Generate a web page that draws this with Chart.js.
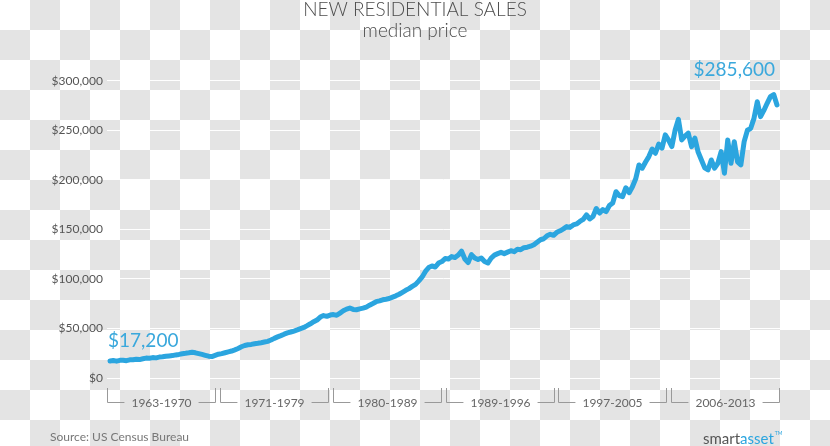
<!DOCTYPE html>
<html>
<head>
<meta charset="utf-8">
<script src="https://cdn.jsdelivr.net/npm/chart.js@4.4.1/dist/chart.umd.min.js"></script>
<style>
  html, body { margin: 0; padding: 0; }
  body {
    width: 830px; height: 446px; overflow: hidden;
    background: conic-gradient(#e4e4e4 25%, #fff 0 50%, #e4e4e4 0 75%, #fff 0);
    background-size: 60px 60px;
  }
  canvas { display: block; }
</style>
</head>
<body>
<canvas id="salesChart" width="830" height="446"></canvas>
<script>
// median sales price of new houses, quarterly readings, 1963 - 2013
const prices = [
  17200, 17600, 17000, 17800,  17900, 17500, 18300, 18400,  18900, 18600, 19400, 20100,
  20000, 20600, 20300, 21100,  21400, 21900, 22300, 22600,  23300, 23800, 24500, 24900,
  25400, 26000, 25400, 24600,  23800, 22900, 22000, 21600,  22800, 24000, 24600, 25500,
  26400, 27200, 28400, 29800,  31500, 32800, 33600, 33900,  34600, 35000, 35600, 36300,
  37000, 38300, 40000, 41500,  42800, 44200, 45500, 46400,  47400, 48500, 49800, 51000,
  52800, 54700, 56800, 58500,  61500, 63000, 62200, 63500,  64000, 63300, 65500, 67800,
  69500, 70600, 69200, 68900,  69800, 70500, 71600, 73500,  75200, 77000, 77800, 78900,
  79500, 80200, 81600, 82900,  84500, 86500, 88500, 90200,  92500, 94500, 98000, 102000,
  107500, 111500, 113000, 112000,  116000, 117500, 120500, 120000,  122500, 121500, 124000, 128000,
  120000, 116500, 124500, 121000,  119500, 121000, 117500, 116000,  121000, 124000, 125500, 126800,
  125500, 127000, 128500, 127500,  130000, 129500, 131500, 132000,  133000, 134500, 137000, 139500,
  140500, 143500, 145000, 144000,  147000, 148500, 150500, 152800,  152000, 154500, 155500, 158000,
  160000, 164600, 160500, 163000,  171000, 166500, 170000, 168000,  174000, 176500, 188000, 184000,
  183000, 192000, 187000, 193000,  201000, 215000, 211700, 218000,  223400, 231000, 226800, 236000,
  232000, 245300, 240000, 233500,  250300, 261000, 240200, 244000,  247000, 233500, 242000, 228000,
  220000, 212000, 210000, 220000,  211700, 216700, 228400, 206700,  240200, 216700, 238500, 218000,
  215000, 238500, 250000, 252000,  262000, 278800, 263700, 270000,  277200, 283900, 286000, 275500
];
const periods = ["1963-1970", "1971-1979", "1980-1989", "1989-1996", "1997-2005", "2006-2013"];
const yTicks = [0, 50000, 100000, 150000, 200000, 250000, 300000];
const firstLabel = "$17,200";
const lastLabel = "$285,600";

const blue = "#2ba5df";

// bracket labels under the plot, callouts and footer
const decor = {
  id: "decor",
  afterDraw(chart) {
    const ctx = chart.ctx;
    const area = chart.chartArea;
    const x = chart.scales.x, y = chart.scales.y;
    ctx.save();

    // first / last value callouts
    ctx.fillStyle = "#3aa8dc";
    ctx.font = "19px Lato";
    ctx.textBaseline = "alphabetic";
    ctx.textAlign = "left";
    ctx.fillText(firstLabel, x.getPixelForValue(0) - 2, y.getPixelForValue(prices[0]) - 14);
    ctx.textAlign = "right";
    ctx.fillText(lastLabel, x.getPixelForValue(prices.length - 1) - 2, y.getPixelForValue(300000) - 5);

    // period brackets
    const gap = 4;
    const w = (area.right - area.left - gap * (periods.length - 1)) / periods.length;
    const top = area.bottom + 10, mid = area.bottom + 24;
    ctx.font = "12px Lato";
    ctx.textAlign = "center";
    ctx.textBaseline = "middle";
    ctx.strokeStyle = "#999";
    ctx.lineWidth = 1;
    periods.forEach(function (p, i) {
      const l = Math.round(area.left + i * (w + gap)) + 0.5;
      const r = Math.round(l + w) - 0.5;
      const c = (l + r) / 2;
      const tw = ctx.measureText(p).width / 2 + 7;
      ctx.beginPath();
      ctx.moveTo(l, top); ctx.lineTo(l, mid + 0.5); ctx.lineTo(c - tw, mid + 0.5);
      ctx.moveTo(c + tw, mid + 0.5); ctx.lineTo(r, mid + 0.5); ctx.lineTo(r, top);
      ctx.stroke();
      ctx.fillStyle = "#666";
      ctx.fillText(p, c, mid + 1);
    });

    // footer
    ctx.textAlign = "left";
    ctx.textBaseline = "alphabetic";
    ctx.font = "12px Lato";
    ctx.fillStyle = "#777";
    ctx.fillText("Source: US Census Bureau", 50, 441);

    ctx.font = "15px Lato";
    ctx.fillStyle = "#555";
    ctx.fillText("smart", 703, 444);
    const sw = ctx.measureText("smart").width;
    ctx.fillStyle = blue;
    ctx.fillText("asset", 703 + sw, 444);
    const aw = ctx.measureText("asset").width;
    ctx.font = "5px Lato";
    ctx.fillText("TM", 703 + sw + aw + 1, 435);
    ctx.restore();
  }
};

new Chart(document.getElementById("salesChart"), {
  type: "line",
  data: {
    datasets: [{
      data: prices.map(function (v, i) { return { x: i, y: v }; }),
      borderColor: blue,
      borderWidth: 5,
      borderJoinStyle: "round",
      borderCapStyle: "round",
      pointRadius: 0,
      tension: 0,
      fill: false
    }]
  },
  options: {
    responsive: false,
    animation: false,
    devicePixelRatio: 1,
    layout: { padding: { top: 0, left: 50, right: 50, bottom: 68 } },
    scales: {
      x: { type: "linear", display: false, min: -0.913, max: 203.913 },
      y: {
        min: 0,
        max: 300000,
        afterFit: function (scale) { scale.width = 57; },
        afterBuildTicks: function (scale) { scale.ticks = yTicks.map(function (v) { return { value: v }; }); },
        border: { display: false },
        grid: { color: "#ffffff", lineWidth: 1, drawTicks: false },
        ticks: {
          padding: 4,
          color: "#555",
          font: { family: "Lato", size: 12 },
          callback: function (v) { return "$" + v.toLocaleString("en-US"); }
        }
      }
    },
    plugins: {
      legend: { display: false },
      tooltip: { enabled: false },
      title: {
        display: true,
        text: "NEW RESIDENTIAL SALES",
        color: "#4d4d4d",
        font: { family: "Lato", size: 19, weight: "300", lineHeight: 1 },
        padding: { top: 0, bottom: 2 }
      },
      subtitle: {
        display: true,
        text: "median price",
        color: "#4d4d4d",
        font: { family: "Lato", size: 19, weight: "300", lineHeight: 1 },
        padding: { top: 0, bottom: 40.7 }
      }
    }
  },
  plugins: [decor]
});
</script>
</body>
</html>
